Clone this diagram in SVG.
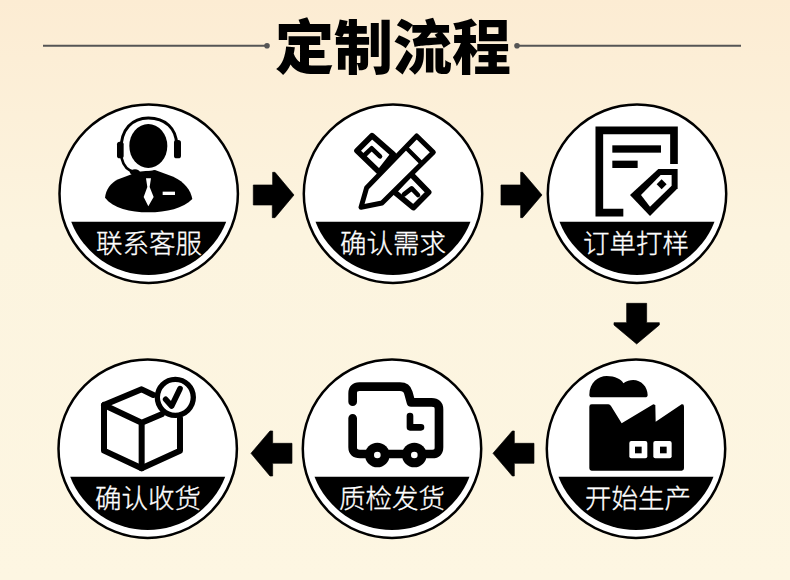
<svg xmlns="http://www.w3.org/2000/svg" width="790" height="580" viewBox="0 0 790 580">
<style>
.ring{fill:#fff;stroke:#000;stroke-width:2.5}
.band{fill:#000}
.lb{font-family:"Noto Sans CJK SC","Noto Sans CJK TC",sans-serif;font-size:26.5px;font-weight:300;fill:#fff;stroke:#fff;stroke-width:.3;text-anchor:middle}
.title{font-family:"Noto Sans CJK SC",sans-serif;font-size:59px;font-weight:900;fill:#000;text-anchor:middle}
.arrow{fill:#000;stroke:#000;stroke-width:2;stroke-linejoin:round}
.k{fill:#000}
.w{fill:#fff}
.s{fill:none;stroke:#000;stroke-linejoin:round;stroke-linecap:round}
.sw{fill:#fff;stroke:#000;stroke-linejoin:round;stroke-linecap:round}
.dl{stroke:#555;stroke-width:2}
.dd{fill:#555}
</style>
<defs>
<linearGradient id="bg" x1="0" y1="0" x2="0" y2="1">
<stop offset="0" stop-color="#fcecd3"/>
<stop offset="0.4" stop-color="#fcf4df"/>
<stop offset="1" stop-color="#fdf6e2"/>
</linearGradient>
<g id="disc">
<circle class="ring" r="89.2"/>
<path class="band" d="M-77.5 28H77.5A83 83 0 0 1-77.5 28Z"/>
</g>
</defs>
<rect width="790" height="580" fill="url(#bg)"/>
<g id="title">
<line class="dl" x1="43" y1="45.7" x2="267" y2="45.7"/>
<circle class="dd" cx="267" cy="45.7" r="2.8"/>
<line class="dl" x1="517" y1="45.7" x2="741" y2="45.7"/>
<circle class="dd" cx="517" cy="45.7" r="2.8"/>
<text class="title" x="393" y="68.5">定制流程</text>
</g>
<g id="connectors">
<polygon class="arrow" transform="translate(40 95) scale(.3333)" points="640,270 698,270 698,232 705,232 762,300 705,368 697,368 697,330 640,330"/>
<polygon class="arrow" transform="translate(290 95) scale(.3333)" points="633,270 692,270 692,232 698,232 756,300 698,368 692,368 692,330 633,330"/>
<polygon class="arrow" transform="translate(540 295) scale(.3333)" points="260,25 320,25 320,83 358,83 358,90 290,147 222,90 222,83 260,83"/>
<polygon class="arrow" transform="translate(290 350) scale(.3333)" points="732,280 673,280 673,243 667,243 609,310 667,378 673,378 673,340 732,340"/>
<polygon class="arrow" transform="translate(50 350) scale(.3333)" points="726,280 668,280 668,243 660,243 603,310 660,378 668,378 668,340 726,340"/>
</g>
<g id="node-contact">
<use href="#disc" x="148.7" y="193.7"/>
<g transform="translate(40 95) scale(.3333)">
<path class="k" d="M195 308C198 285 210 265 235 253L295 230L345 225L400 245C435 262 452 285 457 312C430 340 380 352 325 352C270 352 220 340 195 308Z"/>
<ellipse class="w" cx="325" cy="150" rx="66" ry="77"/>
<ellipse class="k" cx="325" cy="153" rx="57" ry="66"/>
<path class="s" stroke-width="9" d="M243 170C240 100 280 69 325 69C375 69 410 100 410 150"/>
<rect class="k" x="231" y="140" width="20" height="50" rx="8"/>
<rect class="k" x="402" y="135" width="21" height="55" rx="8"/>
<path class="s" stroke-width="8" d="M245 190C250 212 265 228 285 232"/>
<ellipse class="k" cx="285" cy="232" rx="15" ry="9"/>
<path class="w" d="M318 250H333L329 276L341 306L325 334L311 306L322 276Z"/>
<rect class="w" x="368" y="290" width="37" height="10"/>
</g>
<text class="lb" x="149" y="253">联系客服</text>
</g>
<g id="node-confirm">
<use href="#disc" x="393" y="193.7"/>
<g transform="translate(290 95) scale(.3333)">
<path class="sw" stroke-width="17" d="M310 178L246 122L201 167L268 232Z"/>
<path class="s" stroke-width="14" d="M224 180L245 160L270 184"/>
<path class="sw" stroke-width="17" d="M312 290L370 338L416 292L362 236Z"/>
<path class="s" stroke-width="14" d="M342 298L365 280L384 300"/>
<path class="sw" stroke-width="15" d="M213 337L230 278L380 123L430 172L276 324Z"/>
<path class="s" stroke-width="13" d="M350 160L395 205"/>
</g>
<text class="lb" x="393" y="253">确认需求</text>
</g>
<g id="node-sample">
<use href="#disc" x="637" y="193.7"/>
<g transform="translate(540 95) scale(.3333)">
<path fill="none" stroke="#000" stroke-width="23" d="M250 353H178V106H402V207"/>
<rect class="k" x="217" y="151" width="146" height="22"/>
<rect class="k" x="217" y="197" width="76" height="22"/>
<path class="k" d="M413 222V280L330 363L270 300L355 222Z"/>
<path class="w" d="M395 240V272L330 335L303 300L362 240Z"/>
<path class="k" d="M365 253L380 268L365 283L350 268Z"/>
</g>
<text class="lb" x="636" y="253">订单打样</text>
</g>
<g id="node-production">
<use href="#disc" x="636" y="448.7"/>
<g transform="translate(540 295) scale(.3333)">
<path class="k" d="M148 300C148 262 175 243 200 243C225 243 245 253 250 265C285 240 323 265 323 300Q323 307 315 307H156Q148 307 148 300Z"/>
<path class="k" d="M148 335Q148 328 155 328H205Q210 328 213 333L245 385L340 328L346 330L347 380L425 328Q432 326 432 335V520Q432 527 425 527H155Q148 527 148 520Z"/>
<rect class="w" x="268" y="438" width="54" height="52" rx="6"/>
<rect class="w" x="340" y="438" width="55" height="52" rx="6"/>
<rect class="k" x="285" y="455" width="20" height="20"/>
<rect class="k" x="360" y="455" width="20" height="20"/>
</g>
<text class="lb" x="638" y="508">开始生产</text>
</g>
<g id="node-shipping">
<use href="#disc" x="392" y="448.7"/>
<g transform="translate(290 350) scale(.3333)">
<path class="s" stroke-width="26" d="M188 155V130Q188 110 208 110H330Q350 110 355 128L363 157H425Q447 157 447 178V292Q447 312 427 312H210Q188 312 188 292V205"/>
<circle class="k" cx="262" cy="315" r="37"/>
<circle class="k" cx="373" cy="315" r="37"/>
<circle class="w" cx="262" cy="315" r="10"/>
<circle class="w" cx="373" cy="315" r="10"/>
<path class="s" stroke-width="20" d="M360 198V232H393"/>
</g>
<text class="lb" x="392" y="508">质检发货</text>
</g>
<g id="node-receipt">
<use href="#disc" x="147.7" y="448.7"/>
<g transform="translate(50 350) scale(.3333)">
<path class="s" stroke-width="18" d="M310 135L275 118L162 165V302L275 355L390 302V205"/>
<path class="s" stroke-width="18" d="M162 165L275 218L335 193M275 218V355"/>
<circle class="sw" stroke-width="16" cx="376" cy="142" r="54"/>
<path class="s" stroke-width="17" d="M347 148L365 168L390 116"/>
</g>
<text class="lb" x="148" y="508">确认收货</text>
</g>
</svg>
